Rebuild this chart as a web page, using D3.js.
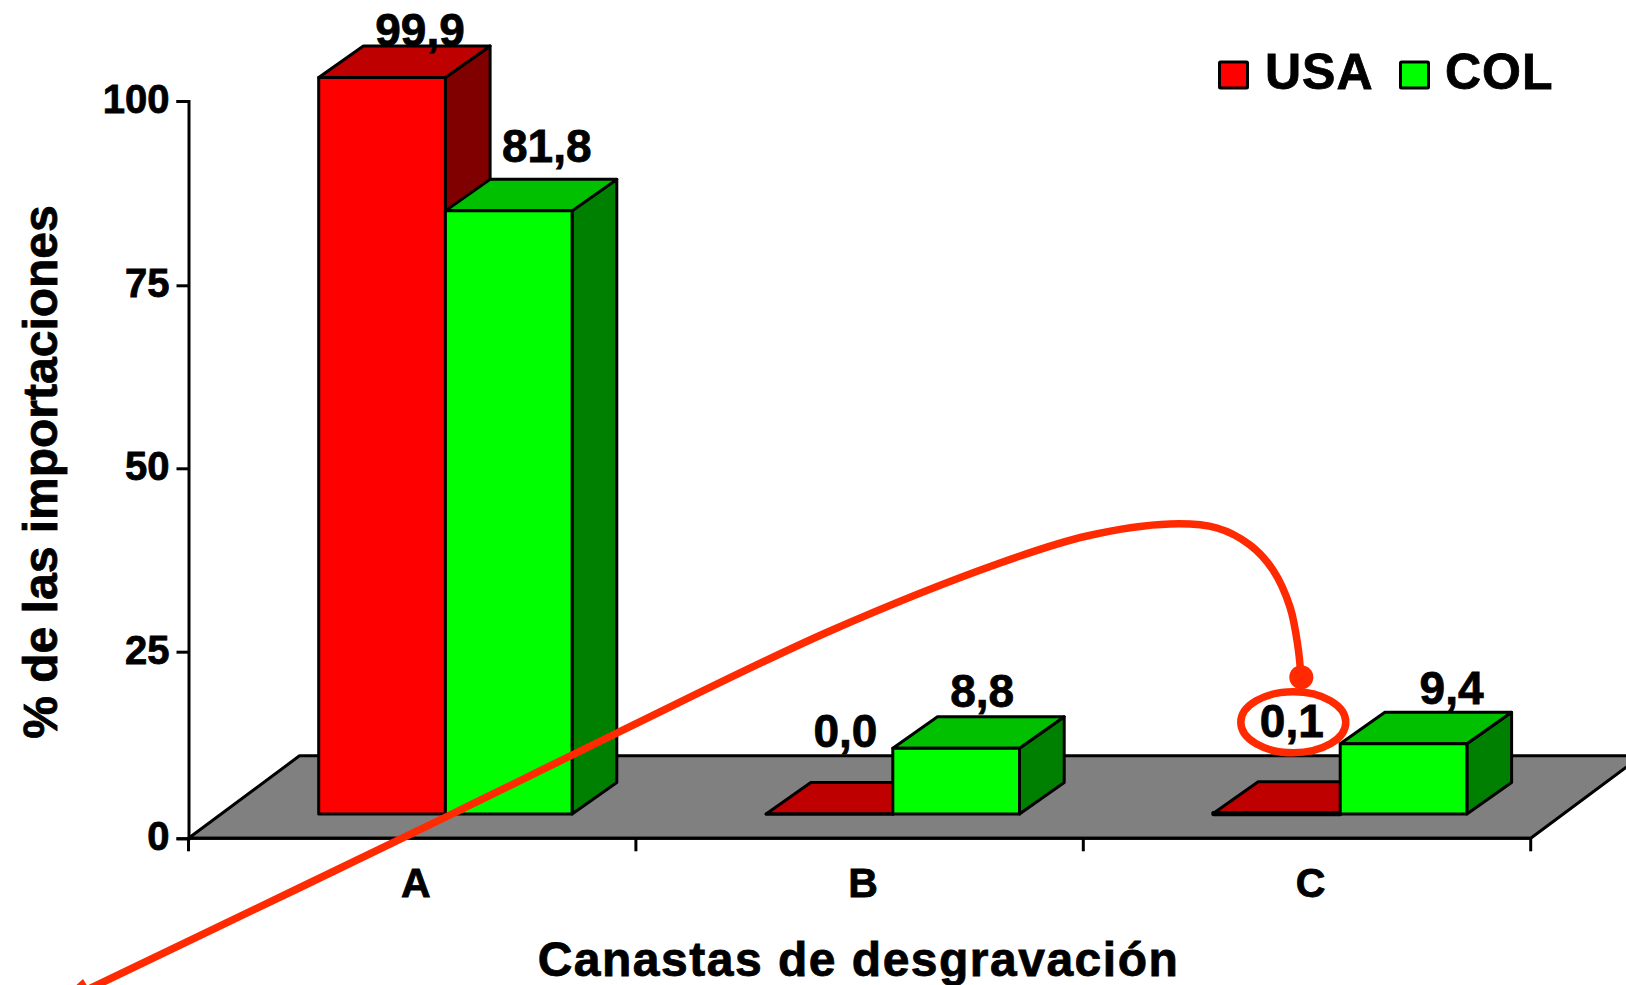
<!DOCTYPE html>
<html><head><meta charset="utf-8">
<style>html,body{margin:0;padding:0;background:#fff;overflow:hidden}svg{display:block}text{font-family:"Liberation Sans",Arial,sans-serif;font-weight:700;fill:#000;stroke:#000;stroke-width:.8px}</style>
<script src="https://cdn.jsdelivr.net/npm/d3@7"></script>
</head><body><script>
const categories = ["A","B","C"];
const seriesNames = ["USA","COL"];
const usaValues = [99.9,0.0,0.1];
const colValues = [81.8,8.8,9.4];
const yTicks = [0,25,50,75,100];
const usaLabels = ["99,9","0,0","0,1"];
const colLabels = ["81,8","8,8","9,4"];
const seriesColors = [
  {front:"#ff0000",top:"#bf0000",side:"#800000"},
  {front:"#00ff00",top:"#00c000",side:"#008000"}
];
const W=1626,H=985;
const svg=d3.select("body").append("svg").attr("width",W).attr("height",H);
const y=d3.scaleLinear().domain(yTicks).range([838.3,651.7,468.3,285.3,101]);
const x=d3.scaleBand().domain(categories).range([188.5,1530.7]);
const sub=d3.scaleBand().domain(seriesNames).range([0,253.4]);
const floorDX=111,floorDY=82.5, barOffX=33.2, barOffY=24.3, depthX=44.7, depthY=31.5;
const ink=3;
const poly=(pts,fill,sw=ink)=>svg.append("path").attr("d","M"+pts.map(p=>p.join(",")).join("L")+"Z").attr("fill",fill).attr("stroke","#000").attr("stroke-width",sw).attr("stroke-linejoin","round");

// floor
poly([[188.5,y(0)],[188.5+floorDX,y(0)-floorDY],[1530.7+floorDX,y(0)-floorDY],[1530.7,y(0)]],"#808080",3);

// axes
const gy=svg.append("g").attr("transform","translate(188.5,0)").call(d3.axisLeft(y).tickValues(yTicks).tickSize(12).tickPadding(7).tickFormat(d3.format("d")));
const gx=svg.append("g").attr("transform",`translate(0,${y(0)})`);
gx.append("line").attr("x1",188.5).attr("x2",1530.7).attr("stroke","#000").attr("stroke-width",3);
[...categories.map(c=>x(c)),x.range()[1]].forEach(px=>gx.append("line").attr("x1",px).attr("x2",px).attr("y1",0).attr("y2",13).attr("stroke","#000").attr("stroke-width",3));
gx.selectAll("text.cat").data(categories).join("text").attr("class","cat").attr("x",c=>x(c)+x.bandwidth()/2+3.5).attr("y",59).attr("text-anchor","middle").attr("font-size",41).text(c=>c);
gy.selectAll("path,line").attr("stroke","#000").attr("stroke-width",3);
gy.selectAll("text").attr("font-size",40).attr("y",-1.5).attr("fill","#000").style("font-family",'"Liberation Sans",Arial,sans-serif').style("font-weight",700);

// bars
const barLeft=(c,s)=>x(c)+x.bandwidth()/2-126.7+33.2+sub(s);
function bar(c,s,v,col){
  const x0=barLeft(c,s),w=sub.bandwidth(),yb=y(0)-barOffY,yt=y(v)-barOffY;
  poly([[x0+w,yt],[x0+w+depthX,yt-depthY],[x0+w+depthX,yb-depthY],[x0+w,yb]],col.side);
  poly([[x0,yt],[x0+depthX,yt-depthY],[x0+w+depthX,yt-depthY],[x0+w,yt]],col.top);
  poly([[x0,yt],[x0+w,yt],[x0+w,yb],[x0,yb]],col.front,(v>0&&yb-yt<2)?4.5:ink);
}
categories.forEach((c,i)=>{
  bar(c,"USA",usaValues[i],seriesColors[0]);
  bar(c,"COL",colValues[i],seriesColors[1]);
});

// data labels: placed by hand in the original, offsets from each bar's front top centre
const usaNudge=[[38,-31],[16,-67],[15,-76]];
const colNudge=[[38,-49],[26,-41],[48,-40]];
categories.forEach((c,i)=>{
  [[ "USA",usaValues,usaLabels,usaNudge],["COL",colValues,colLabels,colNudge]].forEach(([s,vals,labs,nud])=>{
    svg.append("text").attr("text-anchor","middle").attr("font-size",46)
      .attr("x",barLeft(c,s)+sub.bandwidth()/2+nud[i][0]).attr("y",y(vals[i])-barOffY+nud[i][1]).text(labs[i]);
  });
});

// axis titles
svg.append("text").attr("x",858.5).attr("y",976).attr("text-anchor","middle").attr("font-size",48).attr("letter-spacing",1.5).text("Canastas de desgravación");
svg.append("text").attr("transform","translate(57,472) rotate(-90)").attr("text-anchor","middle").attr("font-size",48).text("% de las importaciones");

// legend
[[1218,1265],[1399,1445]].forEach(([sx,tx],i)=>{
  svg.append("rect").attr("x",sx+1.5).attr("y",62).attr("width",28).attr("height",26).attr("fill",seriesColors[i].front).attr("stroke","#000").attr("stroke-width",3).attr("rx",1);
  svg.append("text").attr("x",tx).attr("y",88.5).attr("font-size",50).attr("letter-spacing",1).text(seriesNames[i]);
});

// annotation
const red="#ff2a00";
const curve=[[70,998],[297,889],[450,815],[617,733],[830,631],[1000,563],[1087,536],[1170,524],[1217,528],[1250,545],[1273,570],[1290,607],[1298,647],[1301,677]];
svg.append("path").attr("d",d3.line().curve(d3.curveCatmullRom.alpha(0.5))(curve)).attr("fill","none").attr("stroke",red).attr("stroke-width",7.5);
svg.append("circle").attr("cx",1301.3).attr("cy",677.3).attr("r",12).attr("fill",red);
svg.append("path").attr("d","M83,979L96,1000L60,1000Z").attr("fill",red);
svg.append("ellipse").attr("cx",1293.3).attr("cy",722.3).attr("rx",52.5).attr("ry",30.5).attr("fill","none").attr("stroke",red).attr("stroke-width",7.5);
</script></body></html>
